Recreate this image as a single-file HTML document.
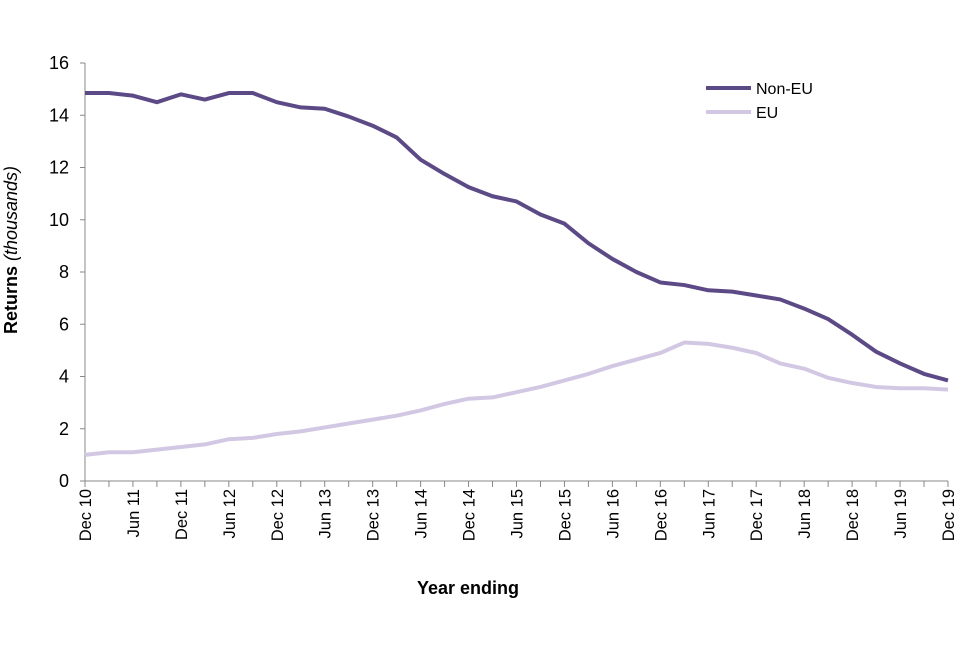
<!DOCTYPE html>
<html><head><meta charset="utf-8"><style>
body{margin:0;background:#fff;font-family:"Liberation Sans",Arial,sans-serif}
svg text{font-family:"Liberation Sans",Arial,sans-serif;fill:#000}
</style></head><body>
<svg id="chart" width="960" height="640">
<g id="axes"></g><g id="lines"></g>
<text x="468" y="594" font-size="18" font-weight="bold" text-anchor="middle">Year ending</text>
<text transform="translate(17,250) rotate(-90)" font-size="18" text-anchor="middle"><tspan font-weight="bold">Returns </tspan><tspan font-style="italic">(thousands)</tspan></text>
<g>
<line x1="706" y1="88" x2="751" y2="88" stroke="#5c4a86" stroke-width="4"/>
<text x="756" y="94" font-size="16">Non-EU</text>
<line x1="706" y1="112" x2="751" y2="112" stroke="#d3c8e3" stroke-width="4"/>
<text x="756" y="118" font-size="16">EU</text>
</g>
</svg>
<script>
const quarterLabels=["Dec 10","Jun 11","Dec 11","Jun 12","Dec 12","Jun 13","Dec 13","Jun 14","Dec 14","Jun 15","Dec 15","Jun 16","Dec 16","Jun 17","Dec 17","Jun 18","Dec 18","Jun 19","Dec 19"];
const yTicks=[0,2,4,6,8,10,12,14,16];
const nonEU=[14.85,14.85,14.75,14.5,14.8,14.6,14.85,14.85,14.5,14.3,14.25,13.95,13.6,13.15,12.3,11.75,11.25,10.9,10.7,10.2,9.85,9.1,8.5,8.0,7.6,7.5,7.3,7.25,7.1,6.95,6.6,6.2,5.6,4.95,4.5,4.1,3.85];
const eu=[1.0,1.1,1.1,1.2,1.3,1.4,1.6,1.65,1.8,1.9,2.05,2.2,2.35,2.5,2.7,2.95,3.15,3.2,3.4,3.6,3.85,4.1,4.4,4.65,4.9,5.3,5.25,5.1,4.9,4.5,4.3,3.95,3.75,3.6,3.55,3.55,3.5];
const NS="http://www.w3.org/2000/svg";
const x0=85,x1=948,y0=481,y1=63,ymax=16,n=nonEU.length;
const xs=i=>x0+(x1-x0)*i/(n-1);
const ys=v=>y0-(y0-y1)*v/ymax;
const axes=document.getElementById('axes'),lines=document.getElementById('lines');
function mk(t,a,p){const e=document.createElementNS(NS,t);for(const k in a)e.setAttribute(k,a[k]);p.appendChild(e);return e;}
let e=mk('line',{x1:x0,y1:y0,x2:x0,y2:y1,stroke:'#888','stroke-width':1},axes);


e=mk('line',{x1:x0,y1:y0,x2:x1,y2:y0,stroke:'#888','stroke-width':1},axes);


yTicks.forEach(v=>{
 mk('line',{x1:x0-5,y1:ys(v),x2:x0,y2:ys(v),stroke:'#888'},axes);
 const t=mk('text',{x:x0-16,y:ys(v)+6,'font-size':18,'text-anchor':'end'},axes);t.textContent=v;
 
 
});
for(let i=0;i<n;i++)mk('line',{x1:xs(i),y1:y0,x2:xs(i),y2:y0+6,stroke:'#888'},axes);
quarterLabels.forEach((l,j)=>{
 const x=xs(j*2);
 const t=mk('text',{transform:`translate(${x+6},${y0+8}) rotate(-90)`,'font-size':16.5,'text-anchor':'end'},axes);t.textContent=l;
 
 
});
function line(data,col,name){
 const p=mk('polyline',{points:data.map((v,i)=>xs(i)+','+ys(v)).join(' '),fill:'none',stroke:col,'stroke-width':4,'stroke-linejoin':'round'},lines);
 
 
}
line(eu,'#d3c8e3','eu-line');
line(nonEU,'#5c4a86','non-eu-line');
</script>
</body></html>
